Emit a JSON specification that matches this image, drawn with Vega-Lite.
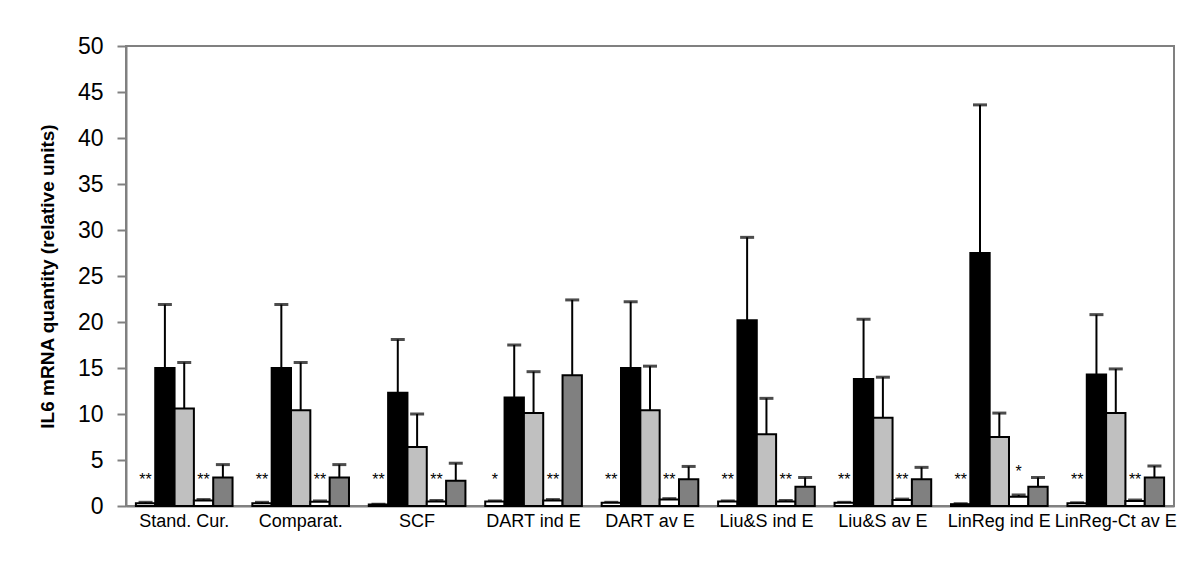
{
  "$schema": "https://vega.github.io/schema/vega-lite/v6.json",
  "width": 1048,
  "height": 460,
  "autosize": {"type": "none"},
  "padding": {"left": 126, "top": 46, "right": 26, "bottom": 56},
  "background": "white",
  "config": {
    "font": "Liberation Sans",
    "view": {"stroke": "#808080", "strokeWidth": 2}
  },
  "datasets": {
    "bars": [
      {"group": "Stand. Cur.", "series": "s1", "value": 0.3, "err": 0.4},
      {"group": "Stand. Cur.", "series": "s2", "value": 15.0, "err": 21.9},
      {"group": "Stand. Cur.", "series": "s3", "value": 10.6, "err": 15.6},
      {"group": "Stand. Cur.", "series": "s4", "value": 0.6, "err": 0.7},
      {"group": "Stand. Cur.", "series": "s5", "value": 3.1, "err": 4.5},
      {"group": "Comparat.", "series": "s1", "value": 0.3, "err": 0.4},
      {"group": "Comparat.", "series": "s2", "value": 15.0, "err": 21.9},
      {"group": "Comparat.", "series": "s3", "value": 10.4, "err": 15.6},
      {"group": "Comparat.", "series": "s4", "value": 0.45, "err": 0.55},
      {"group": "Comparat.", "series": "s5", "value": 3.1, "err": 4.5},
      {"group": "SCF", "series": "s1", "value": 0.15, "err": 0.2},
      {"group": "SCF", "series": "s2", "value": 12.3, "err": 18.1},
      {"group": "SCF", "series": "s3", "value": 6.4, "err": 10.0},
      {"group": "SCF", "series": "s4", "value": 0.5, "err": 0.6},
      {"group": "SCF", "series": "s5", "value": 2.75, "err": 4.65},
      {"group": "DART ind E", "series": "s1", "value": 0.5, "err": 0.55},
      {"group": "DART ind E", "series": "s2", "value": 11.8, "err": 17.5},
      {"group": "DART ind E", "series": "s3", "value": 10.1, "err": 14.6},
      {"group": "DART ind E", "series": "s4", "value": 0.6, "err": 0.7},
      {"group": "DART ind E", "series": "s5", "value": 14.2, "err": 22.4},
      {"group": "DART av E", "series": "s1", "value": 0.35, "err": 0.4},
      {"group": "DART av E", "series": "s2", "value": 15.0, "err": 22.2},
      {"group": "DART av E", "series": "s3", "value": 10.4, "err": 15.2},
      {"group": "DART av E", "series": "s4", "value": 0.7, "err": 0.8},
      {"group": "DART av E", "series": "s5", "value": 2.9, "err": 4.3},
      {"group": "Liu&S ind E", "series": "s1", "value": 0.5, "err": 0.55},
      {"group": "Liu&S ind E", "series": "s2", "value": 20.2, "err": 29.2},
      {"group": "Liu&S ind E", "series": "s3", "value": 7.8, "err": 11.7},
      {"group": "Liu&S ind E", "series": "s4", "value": 0.5, "err": 0.6},
      {"group": "Liu&S ind E", "series": "s5", "value": 2.1, "err": 3.1},
      {"group": "Liu&S av E", "series": "s1", "value": 0.35, "err": 0.4},
      {"group": "Liu&S av E", "series": "s2", "value": 13.8, "err": 20.3},
      {"group": "Liu&S av E", "series": "s3", "value": 9.6, "err": 14.0},
      {"group": "Liu&S av E", "series": "s4", "value": 0.65, "err": 0.75},
      {"group": "Liu&S av E", "series": "s5", "value": 2.9, "err": 4.2},
      {"group": "LinReg ind E", "series": "s1", "value": 0.2, "err": 0.25},
      {"group": "LinReg ind E", "series": "s2", "value": 27.5, "err": 43.6},
      {"group": "LinReg ind E", "series": "s3", "value": 7.5, "err": 10.1},
      {"group": "LinReg ind E", "series": "s4", "value": 1.0, "err": 1.2},
      {"group": "LinReg ind E", "series": "s5", "value": 2.1, "err": 3.1},
      {"group": "LinReg-Ct av E", "series": "s1", "value": 0.3, "err": 0.35},
      {"group": "LinReg-Ct av E", "series": "s2", "value": 14.3, "err": 20.8},
      {"group": "LinReg-Ct av E", "series": "s3", "value": 10.1, "err": 14.9},
      {"group": "LinReg-Ct av E", "series": "s4", "value": 0.55, "err": 0.65},
      {"group": "LinReg-Ct av E", "series": "s5", "value": 3.1, "err": 4.35}
    ],
    "marks": [
      {"group": "Stand. Cur.", "series": "s1", "label": "**", "at": 3.3},
      {"group": "Stand. Cur.", "series": "s4", "label": "**", "at": 3.3},
      {"group": "Comparat.", "series": "s1", "label": "**", "at": 3.3},
      {"group": "Comparat.", "series": "s4", "label": "**", "at": 3.3},
      {"group": "SCF", "series": "s1", "label": "**", "at": 3.3},
      {"group": "SCF", "series": "s4", "label": "**", "at": 3.3},
      {"group": "DART ind E", "series": "s1", "label": "*", "at": 3.3},
      {"group": "DART ind E", "series": "s4", "label": "**", "at": 3.3},
      {"group": "DART av E", "series": "s1", "label": "**", "at": 3.3},
      {"group": "DART av E", "series": "s4", "label": "**", "at": 3.3},
      {"group": "Liu&S ind E", "series": "s1", "label": "**", "at": 3.3},
      {"group": "Liu&S ind E", "series": "s4", "label": "**", "at": 3.3},
      {"group": "Liu&S av E", "series": "s1", "label": "**", "at": 3.3},
      {"group": "Liu&S av E", "series": "s4", "label": "**", "at": 3.3},
      {"group": "LinReg ind E", "series": "s1", "label": "**", "at": 3.3},
      {"group": "LinReg ind E", "series": "s4", "label": "*", "at": 4.1},
      {"group": "LinReg-Ct av E", "series": "s1", "label": "**", "at": 3.3},
      {"group": "LinReg-Ct av E", "series": "s4", "label": "**", "at": 3.3}
    ]
  },
  "encoding": {
    "x": {
      "field": "group",
      "type": "nominal",
      "sort": null,
      "scale": {"paddingInner": 0.17, "paddingOuter": 0.085},
      "axis": {
        "title": null,
        "labelAngle": 0,
        "labelFontSize": 18,
        "labelColor": "black",
        "labelPadding": 6,
        "ticks": false,
        "domainColor": "#808080",
        "domainWidth": 2
      }
    },
    "xOffset": {
      "field": "series",
      "type": "nominal",
      "sort": ["s1", "s2", "s3", "s4", "s5"],
      "scale": {"paddingInner": 0, "paddingOuter": 0}
    }
  },
  "layer": [
    {
      "data": {"name": "bars"},
      "mark": {"type": "rule", "color": "black", "strokeWidth": 2},
      "encoding": {
        "y": {"field": "value", "type": "quantitative"},
        "y2": {"field": "err"}
      }
    },
    {
      "data": {"name": "bars"},
      "mark": {"type": "tick", "color": "black", "size": 14, "thickness": 3, "orient": "horizontal"},
      "encoding": {
        "y": {"field": "err", "type": "quantitative"}
      }
    },
    {
      "data": {"name": "bars"},
      "mark": {"type": "bar", "stroke": "black", "strokeWidth": 2},
      "encoding": {
        "y": {
          "field": "value",
          "type": "quantitative",
          "scale": {"domain": [0, 50], "nice": false},
          "axis": {
            "title": "IL6 mRNA quantity (relative units)",
            "titleFontSize": 19,
            "titleFontWeight": "bold",
            "titleColor": "black",
            "titlePadding": 20,
            "values": [0, 5, 10, 15, 20, 25, 30, 35, 40, 45, 50],
            "labelFontSize": 23,
            "labelColor": "black",
            "labelPadding": 14,
            "tickSize": 9,
            "tickColor": "#808080",
            "tickWidth": 2,
            "domainColor": "#808080",
            "domainWidth": 2,
            "grid": false
          }
        },
        "fill": {
          "field": "series",
          "type": "nominal",
          "scale": {"domain": ["s1", "s2", "s3", "s4", "s5"], "range": ["#ffffff", "#000000", "#c0c0c0", "#ffffff", "#808080"]},
          "legend": null
        }
      }
    },
    {
      "data": {"name": "marks"},
      "mark": {"type": "text", "fontSize": 16, "color": "black", "baseline": "middle", "dy": 4},
      "encoding": {
        "y": {"field": "at", "type": "quantitative"},
        "text": {"field": "label"}
      }
    }
  ]
}
